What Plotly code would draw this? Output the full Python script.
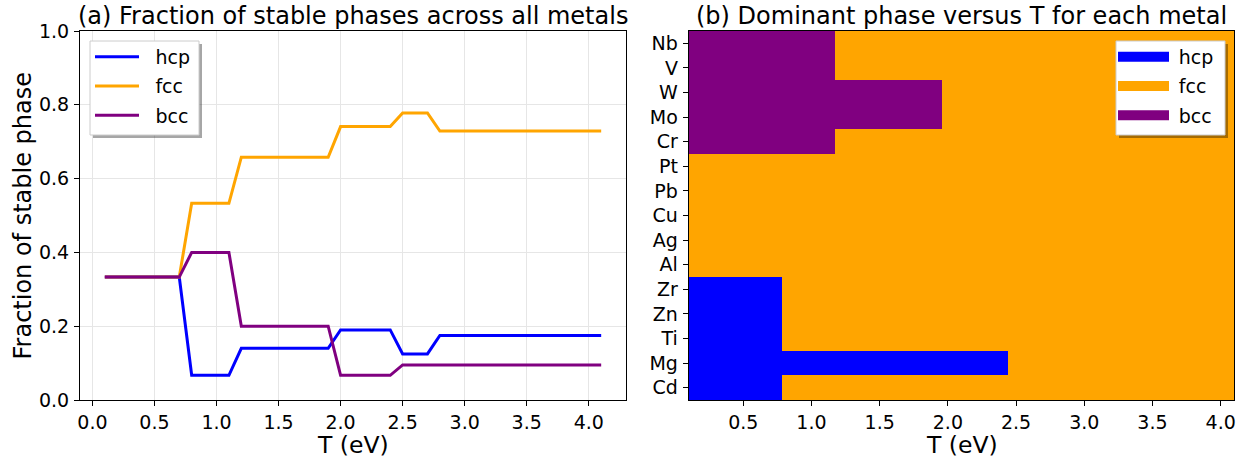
import plotly.graph_objects as go
from plotly.subplots import make_subplots

# ---------------- data ----------------
T = [0.1, 0.2, 0.3, 0.4, 0.5, 0.6, 0.7, 0.8, 0.9, 1.0,
     1.1, 1.2, 1.3, 1.4, 1.5, 1.6, 1.7, 1.8, 1.9, 2.0,
     2.1, 2.2, 2.3, 2.4, 2.5, 2.6, 2.7, 2.8, 2.9, 3.0,
     3.1, 3.2, 3.3, 3.4, 3.5, 3.6, 3.7, 3.8, 3.9, 4.0, 4.1]

frac_hcp = [0.333, 0.333, 0.333, 0.333, 0.333, 0.333, 0.333,
            0.067, 0.067, 0.067, 0.067,
            0.14, 0.14, 0.14, 0.14, 0.14, 0.14, 0.14, 0.14,
            0.19, 0.19, 0.19, 0.19, 0.19,
            0.125, 0.125, 0.125,
            0.175, 0.175, 0.175, 0.175, 0.175, 0.175, 0.175, 0.175, 0.175, 0.175, 0.175, 0.175, 0.175, 0.175]
frac_fcc = [0.333, 0.333, 0.333, 0.333, 0.333, 0.333, 0.333,
            0.533, 0.533, 0.533, 0.533,
            0.658, 0.658, 0.658, 0.658, 0.658, 0.658, 0.658, 0.658,
            0.741, 0.741, 0.741, 0.741, 0.741,
            0.778, 0.778, 0.778,
            0.729, 0.729, 0.729, 0.729, 0.729, 0.729, 0.729, 0.729, 0.729, 0.729, 0.729, 0.729, 0.729, 0.729]
frac_bcc = [0.333, 0.333, 0.333, 0.333, 0.333, 0.333, 0.333,
            0.4, 0.4, 0.4, 0.4,
            0.2, 0.2, 0.2, 0.2, 0.2, 0.2, 0.2, 0.2,
            0.067, 0.067, 0.067, 0.067, 0.067,
            0.095, 0.095, 0.095,
            0.095, 0.095, 0.095, 0.095, 0.095, 0.095, 0.095, 0.095, 0.095, 0.095, 0.095, 0.095, 0.095, 0.095]

# metals from bottom to top of panel (b)
metals = ["Cd", "Mg", "Ti", "Zn", "Zr", "Al", "Ag", "Cu", "Pb", "Pt", "Cr", "Mo", "W", "V", "Nb"]
# phase dominant at low T, and the last T at which it is still dominant (fcc afterwards)
low_T_phase = ["hcp", "hcp", "hcp", "hcp", "hcp", "fcc", "fcc", "fcc", "fcc", "fcc",
               "bcc", "bcc", "bcc", "bcc", "bcc"]
last_T_low = [0.7, 2.4, 0.7, 0.7, 0.7, 4.1, 4.1, 4.1, 4.1, 4.1,
              1.1, 1.9, 1.9, 1.1, 1.1]

phases = ["hcp", "fcc", "bcc"]
colors = {"hcp": "#0000ff", "fcc": "#ffa500", "bcc": "#800080"}

# ---------------- build ----------------
code = {p: i for i, p in enumerate(phases)}
z = []
for ph, tl in zip(low_T_phase, last_T_low):
    z.append([code[ph] if t <= tl + 1e-9 else code["fcc"] for t in T])

# imshow-like cell edges spanning [T_min, T_max]
n = len(T)
x_edges = [T[0] + (T[-1] - T[0]) * k / n for k in range(n + 1)]

W, H = 1247, 459
FONT = "DejaVu Sans"
BIG = 24


def px(x):
    return x / W


def py(y):
    return 1 - y / H


fig = make_subplots(rows=1, cols=2)

for ph, vals in zip(phases, [frac_hcp, frac_fcc, frac_bcc]):
    fig.add_trace(go.Scatter(x=T, y=vals, mode="lines", name="\u2002\u200a" + ph,
                             line=dict(color=colors[ph], width=3),
                             legend="legend", legendgroup="a" + ph), row=1, col=1)

cs = [[0, colors["hcp"]], [1 / 3, colors["hcp"]], [1 / 3, colors["fcc"]],
      [2 / 3, colors["fcc"]], [2 / 3, colors["bcc"]], [1, colors["bcc"]]]
fig.add_trace(go.Heatmap(x=x_edges, y=metals, z=z, zmin=-0.5, zmax=2.5,
                         colorscale=cs, showscale=False, hoverinfo="skip"), row=1, col=2)

for ph in phases:
    fig.add_trace(go.Scatter(x=[None], y=[None], mode="lines", name="\u2005" + ph,
                             line=dict(color=colors[ph], width=10),
                             legend="legend2", legendgroup="b" + ph), row=1, col=2)

ax_common = dict(showline=True, linecolor="black", linewidth=1, mirror=True,
                 ticks="outside", ticklen=5, tickwidth=1, tickcolor="black",
                 tickfont=dict(family=FONT, size=19, color="black"), automargin=False)

fig.update_xaxes(domain=[px(80), px(626)], range=[-0.1, 4.3], tickvals=[0, 0.5, 1, 1.5, 2, 2.5, 3, 3.5, 4],
                 tickformat=".1f", showgrid=True, gridcolor="#e6e6e6", gridwidth=1, zeroline=False,
                 row=1, col=1, **ax_common)
fig.update_yaxes(domain=[py(400), py(31)], range=[0, 1], tickvals=[0, 0.2, 0.4, 0.6, 0.8, 1.0],
                 tickformat=".1f", showgrid=True, gridcolor="#e6e6e6", gridwidth=1, zeroline=False,
                 ticklabelstandoff=1, row=1, col=1, **ax_common)
fig.update_xaxes(domain=[px(688.7), px(1234.3)], range=[T[0], T[-1]],
                 tickvals=[0.5, 1, 1.5, 2, 2.5, 3, 3.5, 4], tickformat=".1f",
                 showgrid=False, zeroline=False, row=1, col=2, **ax_common)
fig.update_yaxes(domain=[py(400), py(31)], range=[-0.5, len(metals) - 0.5],
                 showgrid=False, zeroline=False, ticklabelstandoff=1, row=1, col=2, **ax_common)

annots = [
    dict(text="(a) Fraction of stable phases across all metals", x=px(353), y=py(16), size=BIG),
    dict(text="(b) Dominant phase versus T for each metal", x=px(961.5), y=py(16), size=BIG),
    dict(text="T (eV)", x=px(353), y=py(445), size=23.5),
    dict(text="T (eV)", x=px(961.5), y=py(445), size=23.5),
    dict(text="Fraction of stable phase", x=px(22), y=py(215.5), textangle=-90, size=BIG),
]
for a in annots:
    size = a.pop("size")
    fig.add_annotation(xref="paper", yref="paper", showarrow=False,
                       xanchor="center", yanchor="middle",
                       font=dict(family=FONT, size=size, color="black"), **a)

# legend frames (with shadow), drawn behind the legend entries
shapes = []
for (x0, y0, x1, y1) in [(90, 41, 199, 135), (1116, 41, 1225, 135)]:
    shapes.append(dict(type="rect", xref="paper", yref="paper",
                       x0=px(x0 + 3), x1=px(x1 + 3), y0=py(y1 + 3), y1=py(y0 + 3),
                       fillcolor="rgba(0,0,0,0.35)", line=dict(width=0), layer="above"))
    shapes.append(dict(type="rect", xref="paper", yref="paper",
                       x0=px(x0), x1=px(x1), y0=py(y1), y1=py(y0),
                       fillcolor="white", line=dict(color="#cccccc", width=1), layer="above"))

leg_common = dict(bgcolor="rgba(0,0,0,0)", borderwidth=0, xanchor="left", yanchor="top",
                  font=dict(family=FONT, size=19, color="black"), tracegroupgap=1.5)
fig.update_layout(
    width=W, height=H, margin=dict(l=0, r=0, t=0, b=0),
    paper_bgcolor="white", plot_bgcolor="white",
    showlegend=True,
    legend=dict(x=px(90), y=py(38), itemwidth=44, **leg_common),
    legend2=dict(x=px(1113), y=py(38), itemwidth=51, **leg_common),
    shapes=shapes,
)

fig.write_html("out.html")
